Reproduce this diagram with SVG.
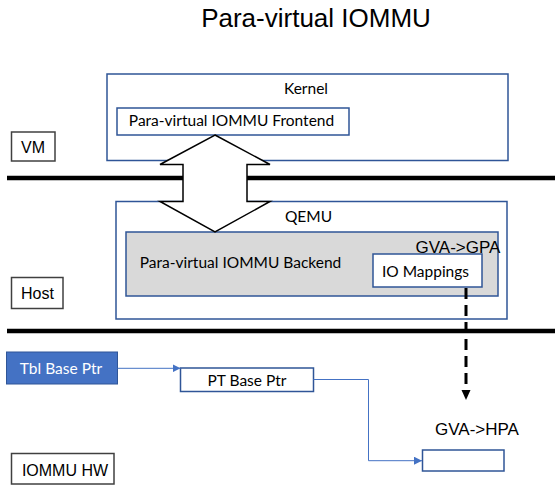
<svg xmlns="http://www.w3.org/2000/svg" width="555" height="487" viewBox="0 0 555 487">
<style>
.ar{font-family:"Liberation Sans",Arial,sans-serif;fill:#000}
.cb{font-family:Lato,"Liberation Sans",sans-serif;fill:#000;font-size:15.5px}
.blue{fill:#fff;stroke:#2f5597;stroke-width:1.5}
.gray{fill:#fff;stroke:#404040;stroke-width:1.5}
.bar{stroke:#000;stroke-width:4.5}
.conn{fill:none;stroke:#4472c4;stroke-width:1}
</style>
<defs>
<marker id="ba" markerUnits="userSpaceOnUse" markerWidth="8" markerHeight="8" refX="8" refY="4" orient="auto">
<path d="M0,0 L8,4 L0,8 z" fill="#4472c4"/>
</marker>
</defs>
<rect width="555" height="487" fill="#fff"/>
<text class="ar" x="316" y="27" font-size="26" text-anchor="middle">Para-virtual IOMMU</text>

<g id="bars">
<line class="bar" x1="7" y1="178" x2="555" y2="178"/>
<line class="bar" x1="7" y1="331" x2="555" y2="331"/>
</g>

<g id="vm"><rect class="gray" x="11.5" y="132" width="43.5" height="29"/><text class="ar" x="33" y="153" font-size="16" text-anchor="middle">VM</text></g>
<g id="host"><rect class="gray" x="11.5" y="277.5" width="51.5" height="31"/><text class="ar" x="37.5" y="299" font-size="16" text-anchor="middle">Host</text></g>
<g id="iommuhw"><rect class="gray" x="11.5" y="453.5" width="102.5" height="30.5"/><text class="ar" x="65" y="475.5" font-size="16" text-anchor="middle">IOMMU HW</text></g>

<g id="kernel"><rect class="blue" x="107" y="74" width="401" height="86.5"/><text class="cb" x="306" y="93.5" text-anchor="middle">Kernel</text></g>
<g id="frontend"><rect class="blue" x="117" y="108" width="232" height="27"/><text class="cb" x="231.5" y="125.5" text-anchor="middle">Para-virtual IOMMU Frontend</text></g>

<g id="qemu"><rect class="blue" x="116" y="201.5" width="391" height="117.5"/><text class="cb" x="308.5" y="222" text-anchor="middle">QEMU</text></g>
<g id="backend"><rect x="126" y="232" width="372" height="64" fill="#d9d9d9" stroke="#2f5597" stroke-width="1.5"/><text class="cb" x="240.5" y="267.5" text-anchor="middle">Para-virtual IOMMU Backend</text></g>
<g id="iomappings"><rect class="blue" x="373" y="254" width="109" height="33"/><text class="cb" x="425.5" y="276.5" text-anchor="middle">IO Mappings</text></g>
<text class="ar" x="458" y="253" font-size="17" text-anchor="middle">GVA-&gt;GPA</text>

<g id="tbl"><rect x="6.5" y="352" width="111" height="32" fill="#4472c4" stroke="#2f5597" stroke-width="1"/><text x="61" y="373.5" font-family="Lato,'Liberation Sans',sans-serif" font-size="15.5" fill="#fff" text-anchor="middle">Tbl Base Ptr</text></g>
<g id="ptbase"><rect class="blue" x="180.5" y="368" width="133" height="23.5"/><text class="cb" x="247" y="385.5" text-anchor="middle">PT Base Ptr</text></g>
<text class="ar" x="477" y="435" font-size="17" text-anchor="middle">GVA-&gt;HPA</text>
<g id="hpa"><rect class="blue" x="422.5" y="450" width="81.5" height="21"/></g>

<g id="connectors">
<polygon points="215,135 270,164.5 247,164.5 247,201.5 270,201.5 215,232 160,201.5 183,201.5 183,164.5 160,164.5" fill="#fff" stroke="#000" stroke-width="1.5" stroke-linejoin="miter"/>
<line x1="466" y1="288" x2="466" y2="391" stroke="#000" stroke-width="3" stroke-dasharray="11 6"/>
<polygon points="461.5,390 470.5,390 466,400" fill="#000"/>
<path class="conn" d="M117.5,368.3 H180.5" marker-end="url(#ba)"/>
<path class="conn" d="M313.5,379.5 H368.5 V460.7 H422" marker-end="url(#ba)"/>
</g>
</svg>
